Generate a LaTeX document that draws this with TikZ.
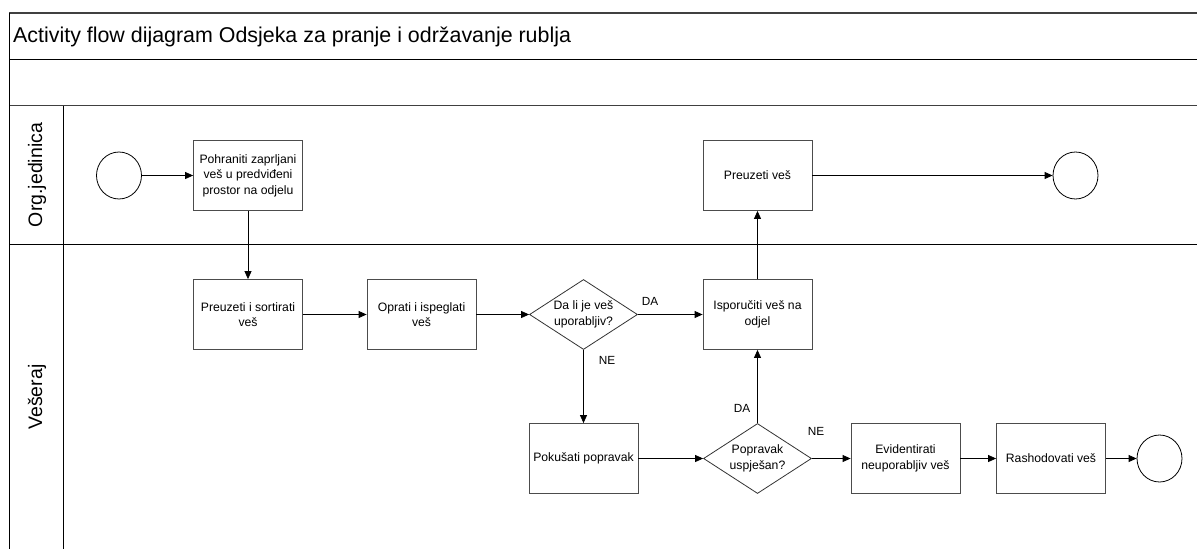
\documentclass[tikz,border=0pt]{standalone}
\usepackage{fontspec}
\setmainfont{Liberation Sans}
\usetikzlibrary{shapes.geometric,arrows.meta}
\begin{document}
\begin{tikzpicture}[x=1pt,y=-1pt,
  frameline/.style={draw=black!75,line width=1.4pt},
  thinframe/.style={draw=black,line width=0.9pt},
  actbox/.style={draw=black!70,line width=0.8pt,rectangle,minimum width=109pt,minimum height=70pt,inner sep=2pt,align=center,font=\fontsize{12.2}{15.5}\selectfont},
  decbox/.style={draw=black!80,line width=0.8pt,diamond,aspect=1.54,minimum width=108pt,minimum height=70pt,inner sep=0pt,align=center,font=\fontsize{12.2}{15.5}\selectfont},
  evt/.style={draw=black,line width=0.8pt,ellipse,minimum width=45pt,minimum height=47pt,inner sep=0pt},
  flow/.style={draw=black,line width=0.8pt,-{Triangle[length=8pt,width=7pt]}},
  lbl/.style={font=\fontsize{11.8}{14}\selectfont,inner sep=0pt},
  lanelbl/.style={rotate=90,font=\fontsize{19.5}{22}\selectfont,inner sep=0pt}]
\useasboundingbox (0,0) rectangle (1197,549);
% frame
\draw[frameline] (9,13) -- (1197,13);
\draw[thinframe] (9,59.5) -- (1197,59.5);
\draw[frameline] (9,105.5) -- (1197,105.5);
\draw[thinframe] (9,244) -- (1197,244);
\draw[thinframe] (9,13) -- (9,549);
\draw[thinframe] (63.5,105.5) -- (63.5,549);
\node[anchor=west,font=\fontsize{21.4}{24}\selectfont,inner sep=0pt] (title) at (13,37) {Activity flow dijagram Odsjeka za pranje i održavanje rublja};
\node[lanelbl] (lane1) at (37,175) {Org.jedinica};
\node[lanelbl] (lane2) at (37,397) {Vešeraj};
% nodes
\node[evt] (start) at (119,175.5) {};
\node[actbox] (pohr) at (248,175.5) {Pohraniti zaprljani\\veš u predviđeni\\prostor na odjelu};
\node[actbox] (preuz) at (248,314.5) {Preuzeti i sortirati\\veš};
\node[actbox] (oprati) at (421.5,314.5) {Oprati i ispeglati\\veš};
\node[decbox] (d1) at (583.5,314.5) {Da li je veš\\uporabljiv?};
\node[actbox] (ispor) at (757.5,314.5) {Isporučiti veš na\\odjel};
\node[actbox] (preuzves) at (757.5,175.5) {Preuzeti veš};
\node[evt] (end1) at (1075.5,175.5) {};
\node[actbox] (pokus) at (583.5,458.5) {Pokušati popravak};
\node[decbox] (d2) at (757.5,458.5) {Popravak\\uspješan?};
\node[actbox] (evid) at (905.5,458.5) {Evidentirati\\neuporabljiv veš};
\node[actbox] (rash) at (1051,458.5) {Rashodovati veš};
\node[evt] (end2) at (1159.5,458.5) {};
% connectors
\draw[flow] (start) -- (pohr);
\draw[flow] (pohr) -- (preuz);
\draw[flow] (preuz) -- (oprati);
\draw[flow] (oprati) -- (d1.west);
\draw[flow] (d1.east) -- (ispor);
\draw[flow] (d1.south) -- (pokus);
\draw[flow] (pokus) -- (d2.west);
\draw[flow] (d2.north) -- (ispor);
\draw[flow] (d2.east) -- (evid);
\draw[flow] (evid) -- (rash);
\draw[flow] (rash) -- (end2);
\draw[flow] (ispor) -- (preuzves);
\draw[flow] (preuzves) -- (end1);
% labels
\node[lbl] (da1) at (650,301) {DA};
\node[lbl] (ne1) at (607,360) {NE};
\node[lbl] (da2) at (742,408) {DA};
\node[lbl] (ne2) at (816,431) {NE};
\end{tikzpicture}
\end{document}
